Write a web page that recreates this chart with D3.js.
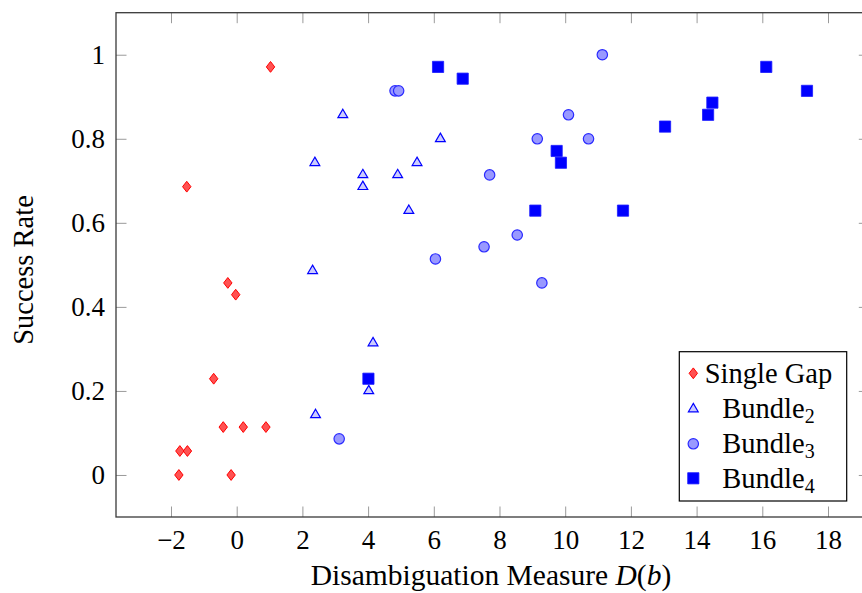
<!DOCTYPE html>
<html>
<head>
<meta charset="utf-8">
<script src="https://cdn.jsdelivr.net/npm/d3@7"></script>
<style>
  body { margin: 0; background: #fff; }
  svg text { font-family: "Liberation Serif", "Times New Roman", serif; fill: #000; }
</style>
</head>
<body>
<svg id="chart" width="862" height="593"></svg>
<script>
// values
var singleGapX = [-1.76, -0.17, -1.73, -1.50, -0.41, 0.20, 0.89, -0.70, -0.27, -0.03, -1.52, 1.03];
var singleGapY = [0, 0, 0.057, 0.057, 0.114, 0.114, 0.114, 0.229, 0.457, 0.429, 0.686, 0.971];

var bundle2X = [3.23, 2.38, 3.84, 3.84, 4.90, 6.20, 5.49, 5.24, 2.31, 4.15, 4.02, 2.40];
var bundle2Y = [0.857, 0.743, 0.714, 0.686, 0.714, 0.800, 0.743, 0.629, 0.486, 0.314, 0.200, 0.143];

var bundle3X = [4.82, 4.93, 11.13, 10.10, 9.15, 10.71, 7.70, 8.54, 7.53, 6.05, 9.29, 3.12];
var bundle3Y = [0.914, 0.914, 1.0, 0.857, 0.800, 0.800, 0.714, 0.571, 0.543, 0.514, 0.457, 0.086];

var bundle4X = [6.13, 6.88, 9.74, 9.87, 9.09, 11.76, 13.04, 16.12, 17.36, 14.48, 14.35, 4.01];
var bundle4Y = [0.971, 0.943, 0.771, 0.743, 0.629, 0.629, 0.829, 0.971, 0.914, 0.886, 0.857, 0.229];

var xTicks = [-2, 0, 2, 4, 6, 8, 10, 12, 14, 16, 18];
var yTicks = [0, 0.2, 0.4, 0.6, 0.8, 1];

var seriesNames = ["Single Gap", "Bundle", "Bundle", "Bundle"];
var seriesSubs = ["", "2", "3", "4"];

var zip = function(xs, ys) {
  return xs.map(function(v, i) { return {x: v, y: ys[i]}; });
};

// note: "top" is taken by window.top, so plotTop etc.
var plotLeft = 116, plotRight = 869.3, plotTop = 12.7, plotBottom = 517;
var tickLen = 10.5;

var svg = d3.select('#chart');

var x = d3.scaleLinear().domain([-3.674, 19.257]).range([plotLeft, plotRight]);
var y = d3.scaleLinear().domain([-0.1, 1.1]).range([plotBottom, plotTop]);

var fmt = function(d) { return d3.format('')(d).replace('-', '\u2212'); };

// ticks on all four sides, pointing in
var drawAxis = function(axis, tx, ty, labels) {
  var g = svg.append('g').attr('transform', 'translate(' + tx + ',' + ty + ')').call(axis);
  g.attr('font-family', null).attr('font-size', null);
  g.select('.domain').remove();
  g.selectAll('.tick line').attr('stroke', '#9a9a9a').attr('stroke-width', 1);
  if (!labels) g.selectAll('.tick text').remove();
  else g.selectAll('.tick text').attr('font-size', 27).attr('fill', '#000');
  return g;
};

drawAxis(d3.axisBottom(x).tickValues(xTicks).tickSizeInner(-tickLen).tickSizeOuter(0).tickPadding(13).tickFormat(fmt), 0, plotBottom, true);
drawAxis(d3.axisTop(x).tickValues(xTicks).tickSizeInner(-tickLen).tickSizeOuter(0).tickFormat(''), 0, plotTop, false);
drawAxis(d3.axisLeft(y).tickValues(yTicks).tickSizeInner(-tickLen).tickSizeOuter(0).tickPadding(11).tickFormat(fmt), plotLeft, 0, true);
drawAxis(d3.axisRight(y).tickValues(yTicks).tickSizeInner(-tickLen).tickSizeOuter(0).tickFormat(''), plotRight, 0, false);

svg.append('rect')
  .attr('x', plotLeft).attr('y', plotTop)
  .attr('width', plotRight - plotLeft).attr('height', plotBottom - plotTop)
  .attr('fill', 'none').attr('stroke', '#3a3a3a').attr('stroke-width', 1.3);

// marker shapes
var diamondPath = 'M0,-5.4L4.2,0L0,5.4L-4.2,0Z';
var trianglePath = 'M0,-5.6L4.9,2.8L-4.9,2.8Z';
var squarePath = 'M-5.6,-5.6H5.6V5.6H-5.6Z';

var markers = [
  {path: diamondPath, fill: '#ff5252', stroke: '#ff0000', sw: 1},
  {path: trianglePath, fill: '#ccccff', stroke: '#0000ff', sw: 1.2},
  {circle: 5.2, fill: '#9999ff', stroke: '#2a2aff', sw: 1.2},
  {path: squarePath, fill: '#0000ff', stroke: '#1a1aff', sw: 0.8}
];

var drawMarker = function(sel, m) {
  if (m.circle) {
    sel.append('circle').attr('r', m.circle);
  } else {
    sel.append('path').attr('d', m.path);
  }
  sel.selectAll('*').attr('fill', m.fill).attr('stroke', m.stroke).attr('stroke-width', m.sw);
};

var allSeries = [
  zip(singleGapX, singleGapY),
  zip(bundle2X, bundle2Y),
  zip(bundle3X, bundle3Y),
  zip(bundle4X, bundle4Y)
];

allSeries.forEach(function(data, k) {
  svg.append('g').selectAll('g')
    .data(data)
    .enter()
    .append('g')
    .attr('transform', function(d) { return 'translate(' + x(d.x) + ',' + y(d.y) + ')'; })
    .each(function() { drawMarker(d3.select(this), markers[k]); });
});

// legend, south east
var lg = svg.append('g');
lg.append('rect')
  .attr('x', 679.3).attr('y', 351.7)
  .attr('width', 167.4).attr('height', 149.3)
  .attr('fill', '#fff').attr('stroke', '#000').attr('stroke-width', 1.2);

var rowY = [373.3, 409, 443.8, 478.3];
seriesNames.forEach(function(name, k) {
  var m = lg.append('g').attr('transform', 'translate(693.3,' + rowY[k] + ')');
  drawMarker(m, markers[k]);
  var t = lg.append('text')
    .attr('x', 768.5).attr('y', rowY[k])
    .attr('dy', '0.33em')
    .attr('text-anchor', 'middle')
    .attr('font-size', 28.5)
    .text(name);
  if (seriesSubs[k]) {
    t.append('tspan').attr('font-size', 20).attr('dy', 5).text(seriesSubs[k]);
  }
});

// axis labels
var xl = svg.append('text')
  .attr('x', 491).attr('y', 585)
  .attr('text-anchor', 'middle')
  .attr('font-size', 29.5);
xl.append('tspan').text('Disambiguation Measure ');
xl.append('tspan').attr('font-style', 'italic').text('D');
xl.append('tspan').text('(');
xl.append('tspan').attr('font-style', 'italic').text('b');
xl.append('tspan').text(')');

svg.append('text')
  .attr('transform', 'translate(33,270) rotate(-90)')
  .attr('text-anchor', 'middle')
  .attr('font-size', 28.5)
  .text('Success Rate');
</script>
</body>
</html>
